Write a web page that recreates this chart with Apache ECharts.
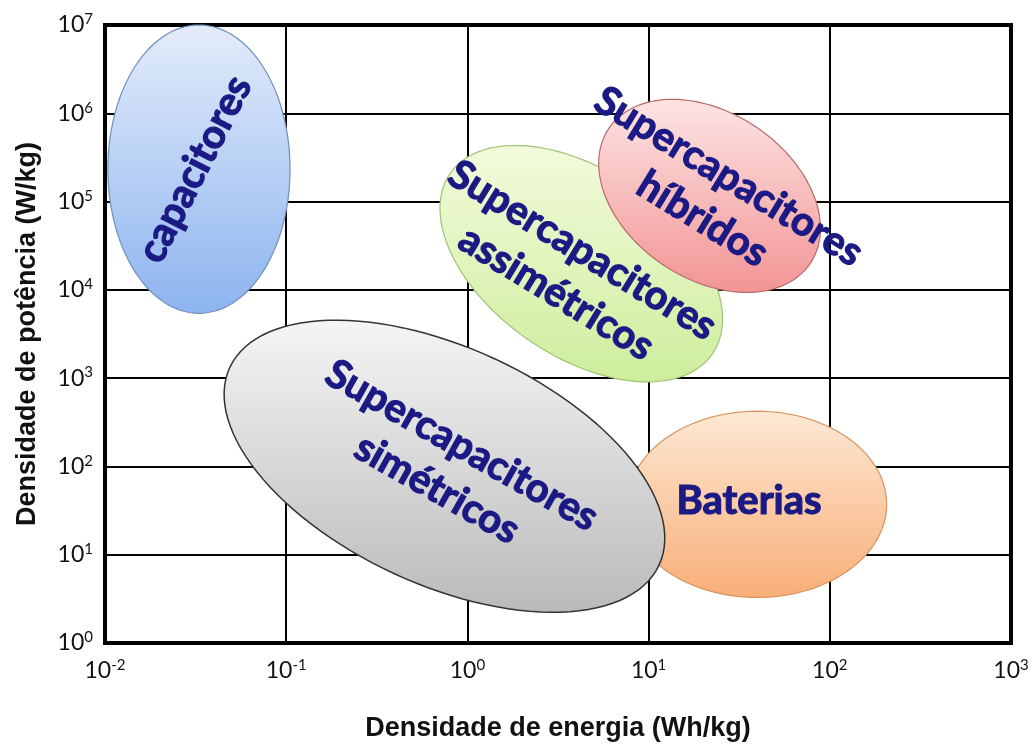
<!DOCTYPE html>
<html>
<head>
<meta charset="utf-8">
<script src="https://cdn.jsdelivr.net/npm/echarts@6/dist/echarts.min.js"></script>
<style>
  html, body { margin: 0; padding: 0; background: #fff; }
</style>
</head>
<body>
<!-- container for the chart -->
<div id="myChart" style="width: 1035px; height: 747px;"></div>
<script>
// decades shown on each axis (tick labels are 10^n)
var energyExponents = [-2, -1, 0, 1, 2, 3];
var powerExponents = [0, 1, 2, 3, 4, 5, 6, 7];

// regions of the Ragone plot
var regionNames = [
  'capacitores',
  'Supercapacitores\nassimétricos',
  'Supercapacitores\nhíbridos',
  'Baterias',
  'Supercapacitores\nsimétricos',
];
// centre of each region [energy Wh/kg, power W/kg]
var regionCentres = [[0.033, 2.33e5], [4.25, 1.98e4], [21.7, 1.16e5], [39.7, 37.2], [0.747, 100.5]];
// end point of the long axis of each region
var regionMajorEnds = [[0.033, 1.0e7], [22.4, 1.86e3], [77.6, 1.96e4], [206, 37.2], [11.4, 7.57]];
// end point of the short axis of each region
var regionMinorEnds = [[0.105, 2.33e5], [8.38, 1.43e5], [39.6, 6.9e5], [39.7, 422], [1.42, 1.65e3]];

// looks of each region (same order as above)
var regionColors = [
  ['#e3ecfa', '#8db4ef', '#6f8fc0'],
  ['#f3fadc', '#cdee9c', '#9fc275'],
  ['#fde4e4', '#f29494', '#b86a6a'],
  ['#fde9d4', '#f8ae78', '#d8945e'],
  ['#f5f5f5', '#bababa', '#333333'],
];
var labelRotation = [63, -31.5, -31.5, 0, -29.5];
var labelOffset = [[-4, 0], [-12, 8], [6, 2], [-8, -3], [5, 1]];

var myChart = echarts.init(document.getElementById('myChart'));

function expLabel(value) {
  var e = Math.round(Math.log10(value));
  return '{b|10}{s|' + e + '}';
}

var tickRich = {
  b: { fontFamily: 'Lato', fontSize: 23, color: '#111', lineHeight: 26 },
  s: { fontFamily: 'Lato', fontSize: 15, color: '#111', lineHeight: 14, verticalAlign: 'top' },
};

function renderRegion(params, api) {
  var i = api.value(2);
  var c = api.coord(regionCentres[i]);
  var a = api.coord(regionMajorEnds[i]);
  var b = api.coord(regionMinorEnds[i]);
  var ux = a[0] - c[0], uy = a[1] - c[1];
  var vx = b[0] - c[0], vy = b[1] - c[1];
  var points = [];
  for (var k = 0; k < 120; k++) {
    var t = (k / 120) * Math.PI * 2;
    points.push([c[0] + Math.cos(t) * ux + Math.sin(t) * vx, c[1] + Math.cos(t) * uy + Math.sin(t) * vy]);
  }
  var col = regionColors[i];
  return {
    type: 'polygon',
    shape: { points: points },
    style: {
      fill: new echarts.graphic.LinearGradient(0, 0, 0, 1, [
        { offset: 0, color: col[0] },
        { offset: 1, color: col[1] },
      ]),
      stroke: col[2],
      lineWidth: i === 4 ? 1.5 : 1.2,
    },
  };
}

function renderLabel(params, api) {
  var i = api.value(2);
  var c = api.coord(regionCentres[i]);
  return {
    type: 'text',
    x: c[0] + labelOffset[i][0],
    y: c[1] + labelOffset[i][1],
    rotation: (labelRotation[i] * Math.PI) / 180,
    style: {
      text: regionNames[i],
      fontFamily: 'Lato',
      fontWeight: 'bold',
      fontSize: 40,
      lineHeight: 50,
      fill: '#1b1a85',
      // a thin outline in the same colour makes the letters heavier
      stroke: '#1b1a85',
      lineWidth: 1.2,
      align: 'center',
      verticalAlign: 'middle',
    },
  };
}

var regionData = regionCentres.map(function (c, i) {
  return [c[0], c[1], i];
});

var option = {
  animation: false,
  grid: {
    left: 105,
    right: 24,
    top: 25,
    bottom: 98,
    show: true,
    borderColor: '#000',
    borderWidth: 4,
  },
  xAxis: {
    type: 'log',
    logBase: 10,
    min: Math.pow(10, energyExponents[0]),
    max: Math.pow(10, energyExponents[energyExponents.length - 1]),
    splitNumber: energyExponents.length - 1,
    name: 'Densidade de energia (Wh/kg)',
    nameLocation: 'middle',
    nameGap: 72,
    nameTextStyle: { fontFamily: 'Liberation Sans', fontWeight: 'bold', fontSize: 27, color: '#111' },
    axisLine: { show: true, lineStyle: { color: '#000', width: 4 } },
    axisTick: { show: false },
    axisLabel: { formatter: expLabel, rich: tickRich, margin: 15 },
    splitLine: { show: true, lineStyle: { color: '#000', width: 2 } },
    minorTick: { show: false },
  },
  yAxis: {
    type: 'log',
    logBase: 10,
    min: Math.pow(10, powerExponents[0]),
    max: Math.pow(10, powerExponents[powerExponents.length - 1]),
    splitNumber: powerExponents.length - 1,
    name: 'Densidade de potência (W/kg)',
    nameLocation: 'middle',
    nameGap: 64,
    nameTextStyle: { fontFamily: 'Liberation Sans', fontWeight: 'bold', fontSize: 27, color: '#111' },
    axisLine: { show: true, lineStyle: { color: '#000', width: 4 } },
    axisTick: { show: false },
    axisLabel: { formatter: expLabel, rich: tickRich, margin: 12 },
    splitLine: { show: true, lineStyle: { color: '#000', width: 2 } },
  },
  series: [
    {
      type: 'custom',
      name: 'regions',
      renderItem: renderRegion,
      encode: { x: 0, y: 1 },
      data: regionData,
      clip: false,
      z: 3,
    },
    {
      type: 'custom',
      name: 'labels',
      renderItem: renderLabel,
      encode: { x: 0, y: 1 },
      data: regionData,
      clip: false,
      z: 5,
    },
  ],
};
option && myChart.setOption(option);
</script>
</body>
</html>
